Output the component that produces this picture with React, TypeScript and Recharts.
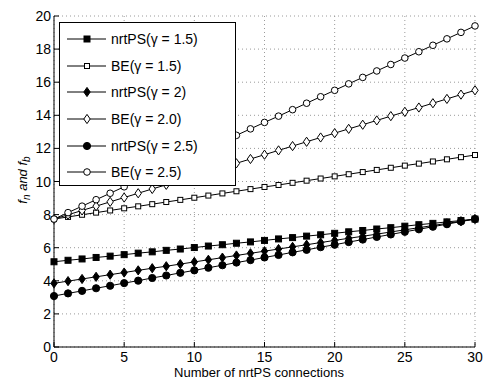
import React from "react";
import {
  LineChart,
  Line,
  XAxis,
  YAxis,
  CartesianGrid,
  Legend,
} from "recharts";

const FONT = '"Liberation Sans", Arial, Helvetica, sans-serif';

// number of nrtPS connections
const connections = [
  0, 1, 2, 3, 4, 5, 6, 7, 8, 9, 10, 11, 12, 13, 14, 15, 16, 17, 18, 19, 20,
  21, 22, 23, 24, 25, 26, 27, 28, 29, 30,
];

const nrtPS15 = [
  5.15, 5.24, 5.32, 5.41, 5.49, 5.58, 5.67, 5.75, 5.84, 5.92, 6.01, 6.1, 6.18,
  6.27, 6.35, 6.44, 6.53, 6.61, 6.7, 6.78, 6.87, 6.96, 7.04, 7.13, 7.21, 7.3,
  7.39, 7.47, 7.56, 7.64, 7.73,
];
const be15 = [
  7.73, 7.86, 7.99, 8.12, 8.25, 8.38, 8.5, 8.63, 8.76, 8.89, 9.02, 9.15, 9.28,
  9.41, 9.54, 9.67, 9.79, 9.92, 10.05, 10.18, 10.31, 10.44, 10.57, 10.7, 10.83,
  10.96, 11.08, 11.21, 11.34, 11.47, 11.6,
];
const nrtPS20 = [
  3.85, 3.98, 4.11, 4.24, 4.37, 4.5, 4.63, 4.76, 4.88, 5.01, 5.14, 5.27, 5.4,
  5.53, 5.66, 5.79, 5.92, 6.05, 6.18, 6.31, 6.44, 6.57, 6.69, 6.82, 6.95, 7.08,
  7.21, 7.34, 7.47, 7.6, 7.73,
];
const be20 = [
  7.73, 7.99, 8.25, 8.51, 8.77, 9.03, 9.29, 9.55, 9.8, 10.06, 10.32, 10.58,
  10.84, 11.1, 11.36, 11.62, 11.88, 12.14, 12.4, 12.66, 12.92, 13.18, 13.43,
  13.69, 13.95, 14.21, 14.47, 14.73, 14.99, 15.25, 15.51,
];
const nrtPS25 = [
  3.08, 3.24, 3.39, 3.55, 3.7, 3.86, 4.01, 4.17, 4.32, 4.48, 4.63, 4.79, 4.94,
  5.1, 5.25, 5.41, 5.56, 5.72, 5.87, 6.03, 6.18, 6.34, 6.49, 6.65, 6.8, 6.96,
  7.11, 7.27, 7.42, 7.58, 7.73,
];
const be25 = [
  7.73, 8.12, 8.51, 8.9, 9.29, 9.68, 10.06, 10.45, 10.84, 11.23, 11.62, 12.01,
  12.4, 12.79, 13.18, 13.57, 13.95, 14.34, 14.73, 15.12, 15.51, 15.9, 16.29,
  16.68, 17.07, 17.46, 17.84, 18.23, 18.62, 19.01, 19.4,
];

const xTicks = [0, 5, 10, 15, 20, 25, 30];
const yTicks = [0, 2, 4, 6, 8, 10, 12, 14, 16, 18, 20];

const data = connections.map((n, i) => ({
  n,
  nrtPS15: nrtPS15[i],
  be15: be15[i],
  nrtPS20: nrtPS20[i],
  be20: be20[i],
  nrtPS25: nrtPS25[i],
  be25: be25[i],
}));

type MarkerKind = "square" | "diamond" | "circle";

function Marker({ cx, cy, kind, filled }: { cx: number; cy: number; kind: MarkerKind; filled: boolean }) {
  const fill = filled ? "#000" : "#fff";
  if (kind === "square") {
    const s = filled ? 6 : 5;
    return <rect x={cx - s / 2} y={cy - s / 2} width={s} height={s} fill={fill} stroke="#000" strokeWidth={1} />;
  }
  if (kind === "diamond") {
    const w = 3.2;
    const h = 4.6;
    return (
      <polygon
        points={`${cx},${cy - h} ${cx + w},${cy} ${cx},${cy + h} ${cx - w},${cy}`}
        fill={fill}
        stroke="#000"
        strokeWidth={1}
      />
    );
  }
  return <circle cx={cx} cy={cy} r={filled ? 3.6 : 3.3} fill={fill} stroke="#000" strokeWidth={1} />;
}

const series = [
  { key: "nrtPS15", name: "nrtPS(\u03b3 = 1.5)", kind: "square" as MarkerKind, filled: true },
  { key: "be15", name: "BE(\u03b3 = 1.5)", kind: "square" as MarkerKind, filled: false },
  { key: "nrtPS20", name: "nrtPS(\u03b3 = 2)", kind: "diamond" as MarkerKind, filled: true },
  { key: "be20", name: "BE(\u03b3 = 2.0)", kind: "diamond" as MarkerKind, filled: false },
  { key: "nrtPS25", name: "nrtPS(\u03b3 = 2.5)", kind: "circle" as MarkerKind, filled: true },
  { key: "be25", name: "BE(\u03b3 = 2.5)", kind: "circle" as MarkerKind, filled: false },
];

// MATLAB-style ticks: short marks pointing into the plot
const BottomTick = (props: any) => {
  const { x, y, payload } = props;
  return (
    <g>
      <line x1={x} y1={y} x2={x} y2={y - 5} stroke="#000" />
      <text x={x} y={y + 15} textAnchor="middle" fontSize={14} fontFamily={FONT} fill="#000">
        {payload.value}
      </text>
    </g>
  );
};

const LeftTick = (props: any) => {
  const { x, y, payload } = props;
  return (
    <g>
      <line x1={x} y1={y} x2={x + 5} y2={y} stroke="#000" />
      <text x={x - 3} y={y + 5} textAnchor="end" fontSize={14} fontFamily={FONT} fill="#000">
        {payload.value}
      </text>
    </g>
  );
};

const TopTick = (props: any) => {
  const { x, y } = props;
  return <line x1={x} y1={y} x2={x} y2={y + 5} stroke="#000" />;
};

const RightTick = (props: any) => {
  const { x, y } = props;
  return <line x1={x} y1={y} x2={x - 5} y2={y} stroke="#000" />;
};

const YLabel = () => (
  <text
    x={27}
    y={180}
    transform="rotate(-90 27 180)"
    textAnchor="middle"
    fontSize={13}
    fontFamily={FONT}
    fontStyle="italic"
    fill="#000"
  >
    f
    <tspan dy={3} fontSize={10}>n</tspan>
    <tspan dy={-3}> and f</tspan>
    <tspan dy={3} fontSize={10}>b</tspan>
  </text>
);

const XLabel = () => (
  <text x={259} y={377} textAnchor="middle" fontSize={13} fontFamily={FONT} fill="#000">
    Number of nrtPS connections
  </text>
);

const LegendBox = () => (
  <div
    style={{
      boxSizing: "border-box",
      width: 177,
      height: 164,
      border: "1px solid #000",
      background: "#fff",
      paddingTop: 3,
      fontFamily: FONT,
      fontSize: 14,
      color: "#000",
    }}
  >
    {series.map((s) => (
      <div key={s.key} style={{ display: "flex", alignItems: "center", height: 26.6 }}>
        <svg width={46} height={14} style={{ display: "block" }}>
          <line x1={7} y1={7} x2={46} y2={7} stroke="#000" />
          <Marker cx={27} cy={7} kind={s.kind} filled={s.filled} />
        </svg>
        <span style={{ marginLeft: 5, whiteSpace: "nowrap" }}>{s.name}</span>
      </div>
    ))}
  </div>
);

export default function App() {
  return (
    <div style={{ position: "absolute", left: 0, top: 0, background: "#fff" }}>
      <LineChart width={483} height={380} data={data} margin={{ top: 16, right: 8, bottom: 0, left: 0 }}>
        <CartesianGrid
          stroke="#9a9a9a"
          strokeDasharray="1 3"
          horizontalValues={yTicks}
          verticalValues={xTicks}
        />
        <XAxis
          dataKey="n"
          type="number"
          domain={[0, 30]}
          ticks={xTicks}
          height={33}
          tickSize={0}
          tickMargin={0}
          tick={<BottomTick />}
          axisLine={{ stroke: "#000" }}
          tickLine={false}
          label={{ content: XLabel }}
        />
        <XAxis
          xAxisId="top"
          orientation="top"
          dataKey="n"
          type="number"
          domain={[0, 30]}
          ticks={xTicks}
          height={0}
          tickSize={0}
          tickMargin={0}
          tick={<TopTick />}
          axisLine={{ stroke: "#000" }}
          tickLine={false}
        />
        <YAxis
          type="number"
          domain={[0, 20]}
          ticks={yTicks}
          width={54}
          tickSize={0}
          tickMargin={0}
          tick={<LeftTick />}
          axisLine={{ stroke: "#000" }}
          tickLine={false}
          label={{ content: YLabel }}
        />
        <YAxis
          yAxisId="right"
          orientation="right"
          type="number"
          domain={[0, 20]}
          ticks={yTicks}
          width={0}
          tickSize={0}
          tickMargin={0}
          tick={<RightTick />}
          axisLine={{ stroke: "#000" }}
          tickLine={false}
        />
        {series.map((s) => (
          <Line
            key={s.key}
            dataKey={s.key}
            name={s.name}
            stroke="#000"
            strokeWidth={1}
            isAnimationActive={false}
            dot={(p: any) => <Marker key={`${s.key}-${p.index}`} cx={p.cx} cy={p.cy} kind={s.kind} filled={s.filled} />}
            activeDot={false}
          />
        ))}
        <Legend
          layout="vertical"
          align="center"
          verticalAlign="middle"
          content={LegendBox}
          wrapperStyle={{ left: 59, top: 22, width: 177, height: 164 }}
        />
      </LineChart>
    </div>
  );
}
